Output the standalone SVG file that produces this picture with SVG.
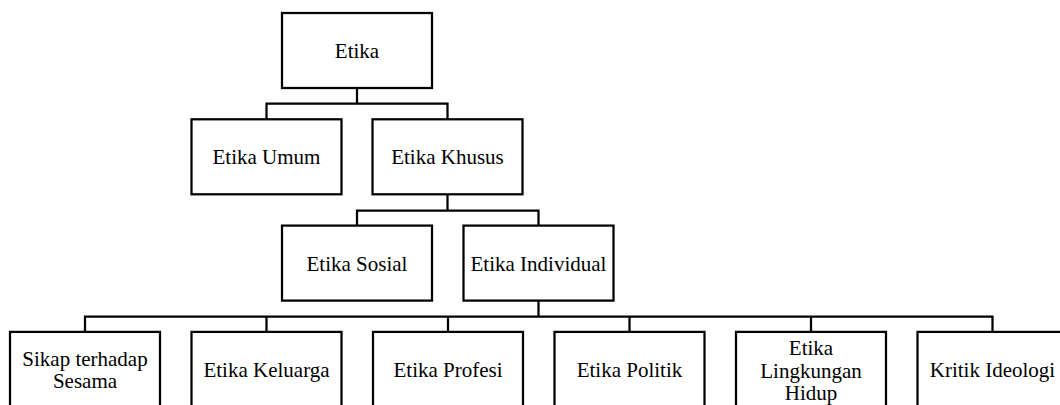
<svg xmlns="http://www.w3.org/2000/svg" width="1060" height="405" viewBox="0 0 1060 405">
<style>
rect.box{fill:#fff;stroke:#000;stroke-width:2.25}
.conn path{fill:none;stroke:#000;stroke-width:2.25}
text{font-family:"Liberation Serif","Times New Roman",serif;font-size:21px;fill:#000;text-anchor:middle}
</style>
<rect width="1060" height="405" fill="#fff"/>
<g class="conn">
<path d="M357 88 V103.5 M266.5 119.3 V103.5 H447.5 V119.3"/>
<path d="M447.5 194.3 V210.6 M357 225.6 V210.6 H538.5 V225.6"/>
<path d="M538.5 300.6 V316.7 M85 331.9 V316.7 H992.5 V331.9 M266.5 316.7 V331.9 M448 316.7 V331.9 M629.5 316.7 V331.9 M811 316.7 V331.9"/>
</g>
<g id="etika"><rect class="box" x="282" y="13" width="150" height="75"/><text x="357" y="57.5">Etika</text></g>
<g id="etika-umum"><rect class="box" x="191.5" y="119.3" width="150" height="75"/><text x="266.5" y="164.3">Etika Umum</text></g>
<g id="etika-khusus"><rect class="box" x="372.5" y="119.3" width="150" height="75"/><text x="447.5" y="164.3">Etika Khusus</text></g>
<g id="etika-sosial"><rect class="box" x="282" y="225.6" width="150" height="75"/><text x="357" y="270.6">Etika Sosial</text></g>
<g id="etika-individual"><rect class="box" x="463.5" y="225.6" width="150" height="75"/><text x="538.5" y="270.6">Etika Individual</text></g>
<g id="sikap"><rect class="box" x="10" y="331.9" width="150" height="75"/><text x="85" y="365.7">Sikap terhadap</text><text x="85" y="388.3">Sesama</text></g>
<g id="etika-keluarga"><rect class="box" x="191.5" y="331.9" width="150" height="75"/><text x="266.5" y="377.3">Etika Keluarga</text></g>
<g id="etika-profesi"><rect class="box" x="373" y="331.9" width="150" height="75"/><text x="448" y="377.3">Etika Profesi</text></g>
<g id="etika-politik"><rect class="box" x="554.5" y="331.9" width="150" height="75"/><text x="629.5" y="377.3">Etika Politik</text></g>
<g id="etika-lingkungan"><rect class="box" x="736" y="331.9" width="150" height="75"/><text x="811" y="355">Etika</text><text x="811" y="377.5">Lingkungan</text><text x="811" y="400">Hidup</text></g>
<g id="kritik-ideologi"><rect class="box" x="917.5" y="331.9" width="150" height="75"/><text x="992.5" y="377.3">Kritik Ideologi</text></g>
</svg>
